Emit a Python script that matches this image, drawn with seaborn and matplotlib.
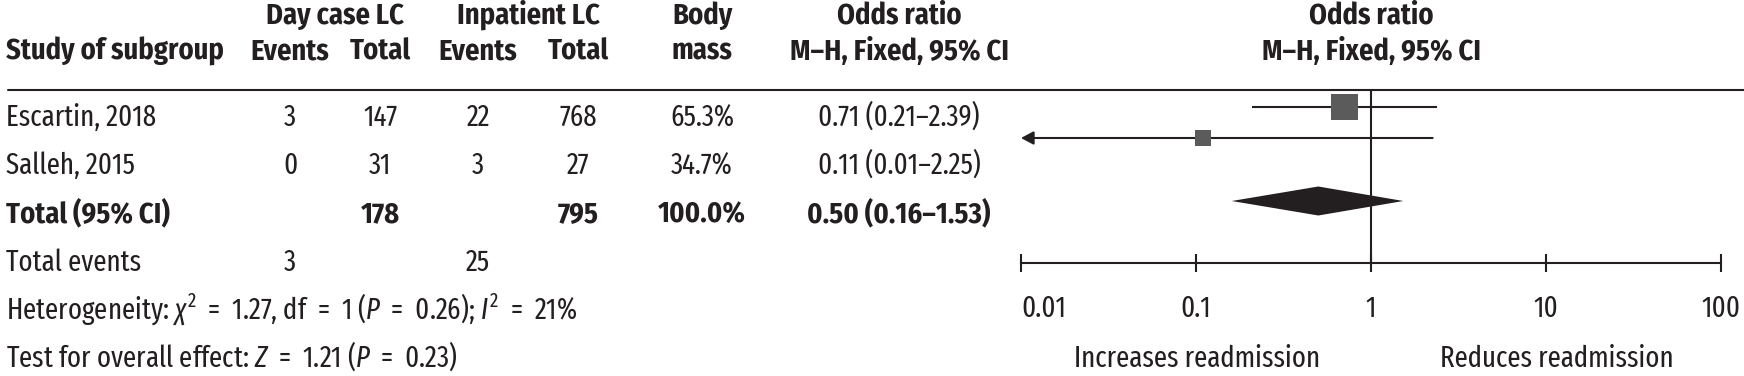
"""
Forest plot: readmission after day case vs inpatient laparoscopic cholecystectomy
"""

import matplotlib
matplotlib.use("Agg")
import matplotlib.pyplot as plt
from matplotlib.lines import Line2D
import pandas as pd
import seaborn as sns

# ---- data ----
studies = ["Escartin, 2018", "Salleh, 2015"]
day_events = [3, 0]
day_total = [147, 31]
inp_events = [22, 3]
inp_total = [768, 27]
weights = [65.3, 34.7]
odds = [0.71, 0.11]
ci_low = [0.21, 0.01]
ci_high = [2.39, 2.25]

pooled_or = 0.50
pooled_low = 0.16
pooled_high = 1.53
pooled_day_total = 178
pooled_inp_total = 795
events_day_total = 3
events_inp_total = 25

chi2, het_df, het_p, i2 = 1.27, 1, 0.26, 21
z_val, z_p = 1.21, 0.23

axis_ticks = [0.01, 0.1, 1, 10, 100]
axis_ticklabels = ["0.01", "0.1", "1", "10", "100"]

# ---- style ----
sns.set_style("white")
FONT = "Fira Sans Extra Condensed"
BOLD_FONT = ["Fira Sans Condensed", "DejaVu Sans"]
plt.rcParams["font.family"] = [FONT, "Fira Sans Condensed", "DejaVu Sans"]
plt.rcParams["mathtext.fontset"] = "custom"
plt.rcParams["mathtext.rm"] = FONT
plt.rcParams["mathtext.it"] = FONT + ":italic"
plt.rcParams["mathtext.bf"] = FONT + ":bold"

INK = "#231f20"
BOX = "#5b5b5b"
FS = 21
FS_BOLD = 20.5
W, H = 1744, 376

fig = plt.figure(figsize=(W / 100, H / 100), dpi=100)


def put(x, y, s, ha="center", bold=False, size=None):
    kw = dict(ha=ha, va="baseline", color=INK)
    if bold:
        kw.update(fontweight="bold", family=BOLD_FONT, fontsize=size or FS_BOLD)
    else:
        kw.update(fontsize=size or FS)
    fig.text(x / W, 1 - y / H, s, **kw)


# column centres / row baselines (pixels)
X_NAME, X_DE, X_DT, X_IE, X_IT, X_W, X_OR = 6, 290, 380, 478, 578, 702, 899
row_base = [126, 174, 222, 271, 319, 367]
EQ = r" $\;$=$\;$ "

# headers
put((X_DE + X_DT) / 2, 24, "Day case LC", bold=True)
put((X_IE + X_IT) / 2, 24, "Inpatient LC", bold=True)
put(X_W, 24, "Body", bold=True)
put(X_OR, 24, "Odds ratio", bold=True)
put(1371, 24, "Odds ratio", bold=True)
put(X_NAME, 60, "Study of subgroup", ha="left", bold=True)
for x, s in [(X_DE, "Events"), (X_DT, "Total"), (X_IE, "Events"), (X_IT, "Total"), (X_W, "mass")]:
    put(x, 60, s, bold=True)
put(X_OR, 60, "M\u2013H, Fixed, 95% CI", bold=True)
put(1371, 60, "M\u2013H, Fixed, 95% CI", bold=True)

fig.add_artist(Line2D([8 / W, 1], [1 - 90 / H] * 2, color=INK, lw=1.5,
                      transform=fig.transFigure))

# study rows
for i, name in enumerate(studies):
    y = row_base[i]
    put(X_NAME, y, name, ha="left")
    put(X_DE, y, str(day_events[i]))
    put(X_DT, y, str(day_total[i]))
    put(X_IE, y, str(inp_events[i]))
    put(X_IT, y, str(inp_total[i]))
    put(X_W, y, f"{weights[i]:.1f}%")
    put(X_OR, y, f"{odds[i]:.2f} ({ci_low[i]:.2f}\u2013{ci_high[i]:.2f})")

# total row
y = row_base[2]
put(X_NAME, y, "Total (95% CI)", ha="left", bold=True)
put(X_DT, y, str(pooled_day_total), bold=True)
put(X_IT, y, str(pooled_inp_total), bold=True)
put(X_W, y, f"{sum(weights):.1f}%", bold=True)
put(X_OR, y, f"{pooled_or:.2f} ({pooled_low:.2f}\u2013{pooled_high:.2f})", bold=True)

put(X_NAME, row_base[3], "Total events", ha="left")
put(X_DE, row_base[3], str(events_day_total))
put(X_IE, row_base[3], str(events_inp_total))
put(X_NAME, row_base[4],
    rf"Heterogeneity: $\chi^2${EQ}{chi2:.2f}, df{EQ}{het_df} ($P${EQ}{het_p:.2f}); $I^2${EQ}{i2}%",
    ha="left")
put(X_NAME, row_base[5],
    rf"Test for overall effect: $Z${EQ}{z_val:.2f} ($P${EQ}{z_p:.2f})", ha="left")

# ---- forest panel ----
ax = fig.add_axes([1021 / W, 1 - 263 / H, 700 / W, (263 - 90) / H])
forest_y = [107, 138]      # row centres in panel pixels
diamond_y, diamond_h = 201, 14.5

df = pd.DataFrame({"study": studies, "odds": odds, "low": ci_low,
                   "high": ci_high, "weight": weights, "y": forest_y})

ax.set_xscale("log")
ax.set_xlim(axis_ticks[0], axis_ticks[-1])
ax.set_ylim(263, 90)

for _, r in df.iterrows():
    if r["low"] <= axis_ticks[0]:
        ax.annotate("", xy=(axis_ticks[0], r["y"]), xytext=(r["high"], r["y"]),
                    arrowprops=dict(arrowstyle="-|>,head_length=0.75,head_width=0.4",
                                    lw=1.5, color=INK, shrinkA=0, shrinkB=0))
    else:
        ax.hlines(r["y"], r["low"], r["high"], color=INK, lw=1.5)

sns.scatterplot(data=df, x="odds", y="y", size="weight", sizes=(133, 377),
                marker="s", color=BOX, linewidth=0, legend=False, ax=ax, zorder=3)

ax.fill([pooled_low, pooled_or, pooled_high, pooled_or],
        [diamond_y, diamond_y - diamond_h, diamond_y, diamond_y + diamond_h],
        color=INK, lw=0, zorder=2)

ax.axvline(1, color=INK, lw=1.5, zorder=1)

ax.set_xticks(axis_ticks)
ax.set_xticklabels(axis_ticklabels)
ax.minorticks_off()
ax.set_yticks([])
ax.set_xlabel("")
ax.set_ylabel("")
for side in ["top", "left", "right"]:
    ax.spines[side].set_visible(False)
ax.spines["bottom"].set_color(INK)
ax.spines["bottom"].set_linewidth(1.5)
ax.tick_params(axis="x", direction="inout", length=13, width=1.5, color=INK,
               labelsize=21, labelcolor=INK, pad=16, bottom=True)
ax.get_xticklabels()[0].set_ha("left")
ax.patch.set_alpha(0)

put(1197, 367, "Increases readmission", size=21)
put(1557, 367, "Reduces readmission", size=21)

fig.savefig("out.png", dpi=100)
plt.close(fig)
print("Saved out.png")
